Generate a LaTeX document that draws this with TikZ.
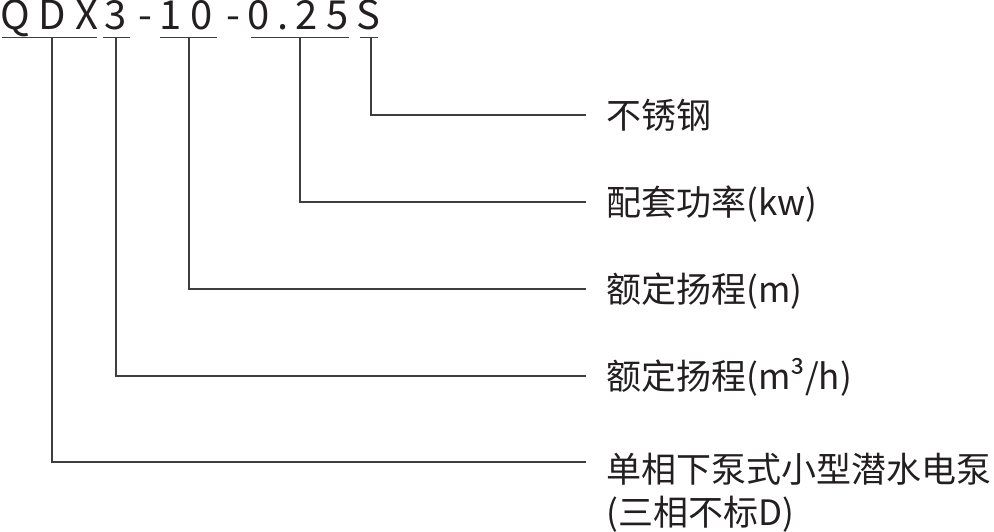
\documentclass[tikz,border=0pt]{standalone}
\usepackage{fontspec}
\setmainfont{Noto Sans CJK SC}
\begin{document}
\begin{tikzpicture}[x=0.5pt,y=-0.5pt,
  code/.style={anchor=base, inner sep=0pt, text height=11.5pt, text depth=0pt, text=textgray, font=\fontsize{20}{24}\selectfont},
  label/.style={anchor=west, inner xsep=10pt, inner ysep=0pt, text height=15.4pt, text depth=2.1pt, text=textgray, font=\fontsize{17.5}{21}\selectfont},
  lead/.style={draw=linegray, line width=0.6pt}]

\definecolor{textgray}{RGB}{35,31,32}
\definecolor{linegray}{RGB}{62,62,62}

\useasboundingbox (0,0) rectangle (994,531);

% Draw the model code
\foreach \c/\x [count=\i] in {Q/15, D/52, X/87, 3/116, -/145, 1/171, 0/202, -/233, 0/259, ./283, 2/307, 5/338, S/368}
  \node[code] (c\i) at (\x,29) {\c};

% Draw the underlines
\foreach \l/\r in {2/97, 103/130, 160/217, 251/349, 360/378}
  \draw[lead] (\l,37.5) -- (\r,37.5);

\coordinate (u1) at (52,37.5);  % QDX
\coordinate (u2) at (116,37.5); % 3
\coordinate (u3) at (189,37.5); % 10
\coordinate (u4) at (300,37.5); % 0.25
\coordinate (u5) at (371,37.5); % S

% Draw the labels
\node[label] (l1) at (586,115) {不锈钢};
\node[label] (l2) at (586,202) {配套功率(kw)};
\node[label] (l3) at (586,289) {额定扬程(m)};
\node[label] (l4) at (586,376) {额定扬程(m³/h)};
\node[label] (l5) at (586,469) {单相下泵式小型潜水电泵};
\node[label] (l6) at (586,512) {(三相不标D)};

% Draw the leaders
\draw[lead] (u5) |- (l1.west);
\draw[lead] (u4) |- (l2.west);
\draw[lead] (u3) |- (l3.west);
\draw[lead] (u2) |- (l4.west);
\draw[lead] (u1) |- ([yshift=3.5pt]l5.west);

\end{tikzpicture}
\end{document}
